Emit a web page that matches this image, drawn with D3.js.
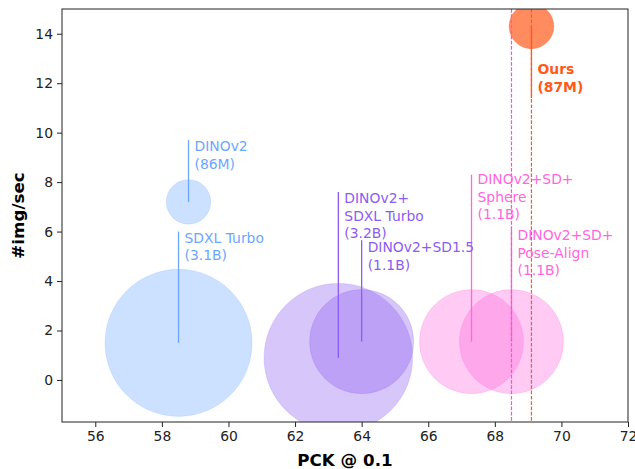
<!DOCTYPE html>
<html>
<head>
<meta charset="utf-8">
<script src="https://cdn.jsdelivr.net/npm/d3@7"></script>
<style>
  body { margin: 0; background: #fff; }
  svg { font-family: "DejaVu Sans", sans-serif; }
</style>
</head>
<body>
<svg width="635" height="469"></svg>
<script>
// data
const models = ['DINOv2', 'SDXL Turbo', 'DINOv2+SDXL Turbo', 'DINOv2+SD1.5', 'DINOv2+SD+Sphere', 'DINOv2+SD+Pose-Align', 'Ours'];
const labelLines = [
  ['DINOv2', '(86M)'],
  ['SDXL Turbo', '(3.1B)'],
  ['DINOv2+', 'SDXL Turbo', '(3.2B)'],
  ['DINOv2+SD1.5', '(1.1B)'],
  ['DINOv2+SD+', 'Sphere', '(1.1B)'],
  ['DINOv2+SD+', 'Pose-Align', '(1.1B)'],
  ['Ours', '(87M)']
];
const pck = [58.8, 58.5, 63.3, 64.0, 67.3, 68.5, 69.1];
const imgPerSec = [7.2, 1.5, 0.9, 1.55, 1.55, 1.55, 14.3];
const paramsM = [86, 3100, 3200, 1100, 1100, 1100, 87];
const stemEnd = [9.7, 6.0, 7.6, 5.65, 8.3, 6.1, 11.4];
const labelTop = [9.7, 6.0, 7.6, 5.6, 8.35, 6.1, 12.8];
const dashedAt = [68.5, 69.1];
const xTicks = [56, 58, 60, 62, 64, 66, 68, 70, 72];
const yTicks = [0, 2, 4, 6, 8, 10, 12, 14];

const colors = ['#6da6ff', '#6da6ff', '#8c5cf2', '#8c5cf2', '#ff66dd', '#ff66dd', '#ff5a1a'];
const alphas = [0.35, 0.35, 0.35, 0.35, 0.35, 0.35, 0.7];
const dashedColors = ['#ff4fd8', '#ff5a1a'];

const svg = d3.select('svg');
const width = +svg.attr('width');
const height = +svg.attr('height');
const margin = {top: 9, right: 7, bottom: 47, left: 62};
const innerWidth = width - margin.left - margin.right;
const innerHeight = height - margin.top - margin.bottom;

const xScale = d3.scaleLinear().domain([55, 72]).range([0, innerWidth]);
const yScale = d3.scaleLinear().domain([-1.7, 15]).range([innerHeight, 0]);
const rScale = d3.scalePow().exponent(1 / 3).domain([0, 3200]).range([0, 74.3]);

const data = models.map((m, i) => ({
  name: m, lines: labelLines[i], x: pck[i], y: imgPerSec[i], p: paramsM[i],
  stem: stemEnd[i], top: labelTop[i], color: colors[i], alpha: alphas[i]
}));

const g = svg.append('g').attr('transform', `translate(${margin.left},${margin.top})`);

g.append('clipPath').attr('id', 'clip')
  .append('rect').attr('width', innerWidth).attr('height', innerHeight);

const plot = g.append('g').attr('clip-path', 'url(#clip)');

plot.selectAll('circle').data(data).enter().append('circle')
  .attr('cx', d => xScale(d.x))
  .attr('cy', d => yScale(d.y))
  .attr('r', d => rScale(d.p))
  .attr('fill', d => d.color)
  .attr('fill-opacity', d => d.alpha)
  .attr('stroke', d => d.color)
  .attr('stroke-opacity', d => d.alpha * 0.5)
  .attr('stroke-width', 1);

const dashes = g.append('g').attr('class', 'dashes');
dashedAt.forEach((v, i) => {
  dashes.append('path')
    .attr('d', `M${xScale(v)},0V${innerHeight}`)
    .style('stroke', dashedColors[i])
    .style('stroke-width', 1.2)
    .style('stroke-dasharray', '3.7,1.6')
    .style('fill', 'none');
});

plot.selectAll('line.stem').data(data).enter().append('line')
  .attr('class', 'stem')
  .attr('x1', d => xScale(d.x)).attr('x2', d => xScale(d.x))
  .attr('y1', d => yScale(d.y)).attr('y2', d => yScale(d.stem))
  .attr('stroke', d => d.color)
  .attr('stroke-width', 1.3);

const labels = g.selectAll('text.lab').data(data).enter().append('text')
  .attr('class', 'lab')
  .attr('x', d => xScale(d.x) + 6)
  .attr('y', d => yScale(d.top) + 11)
  .attr('fill', d => d.color)
  .attr('font-size', 13.9)
  .attr('font-weight', d => d.name === 'Ours' ? 'bold' : 'normal');

labels.selectAll('tspan').data(d => d.lines.map(t => ({t, d}))).enter().append('tspan')
  .attr('x', o => xScale(o.d.x) + 6)
  .attr('dy', (o, i) => i === 0 ? 0 : 17.5)
  .text(o => o.t);

// axes
const xAxis = g.append('g').attr('transform', `translate(0,${innerHeight})`)
  .call(d3.axisBottom(xScale).tickValues(xTicks).tickSizeOuter(0).tickSize(5).tickPadding(4));
const yAxis = g.append('g')
  .call(d3.axisLeft(yScale).tickValues(yTicks).tickSizeOuter(0).tickSize(5).tickPadding(4));
[xAxis, yAxis].forEach(a => {
  a.select('.domain').remove();
  a.selectAll('text').attr('font-size', 13.9).attr('fill', '#222').attr('font-family', 'DejaVu Sans');
  a.selectAll('line').attr('stroke', '#222');
});

g.append('rect')
  .attr('width', innerWidth).attr('height', innerHeight)
  .attr('fill', 'none').attr('stroke', '#222').attr('stroke-width', 1);

svg.append('text')
  .attr('x', margin.left + innerWidth / 2).attr('y', 466)
  .attr('text-anchor', 'middle')
  .attr('font-size', 16.7).attr('font-weight', 'bold')
  .text('PCK @ 0.1');

svg.append('text')
  .attr('transform', `translate(24,${margin.top + innerHeight / 2}) rotate(-90)`)
  .attr('text-anchor', 'middle')
  .attr('font-size', 16.7).attr('font-weight', 'bold')
  .text('#img/sec');
</script>
</body>
</html>
